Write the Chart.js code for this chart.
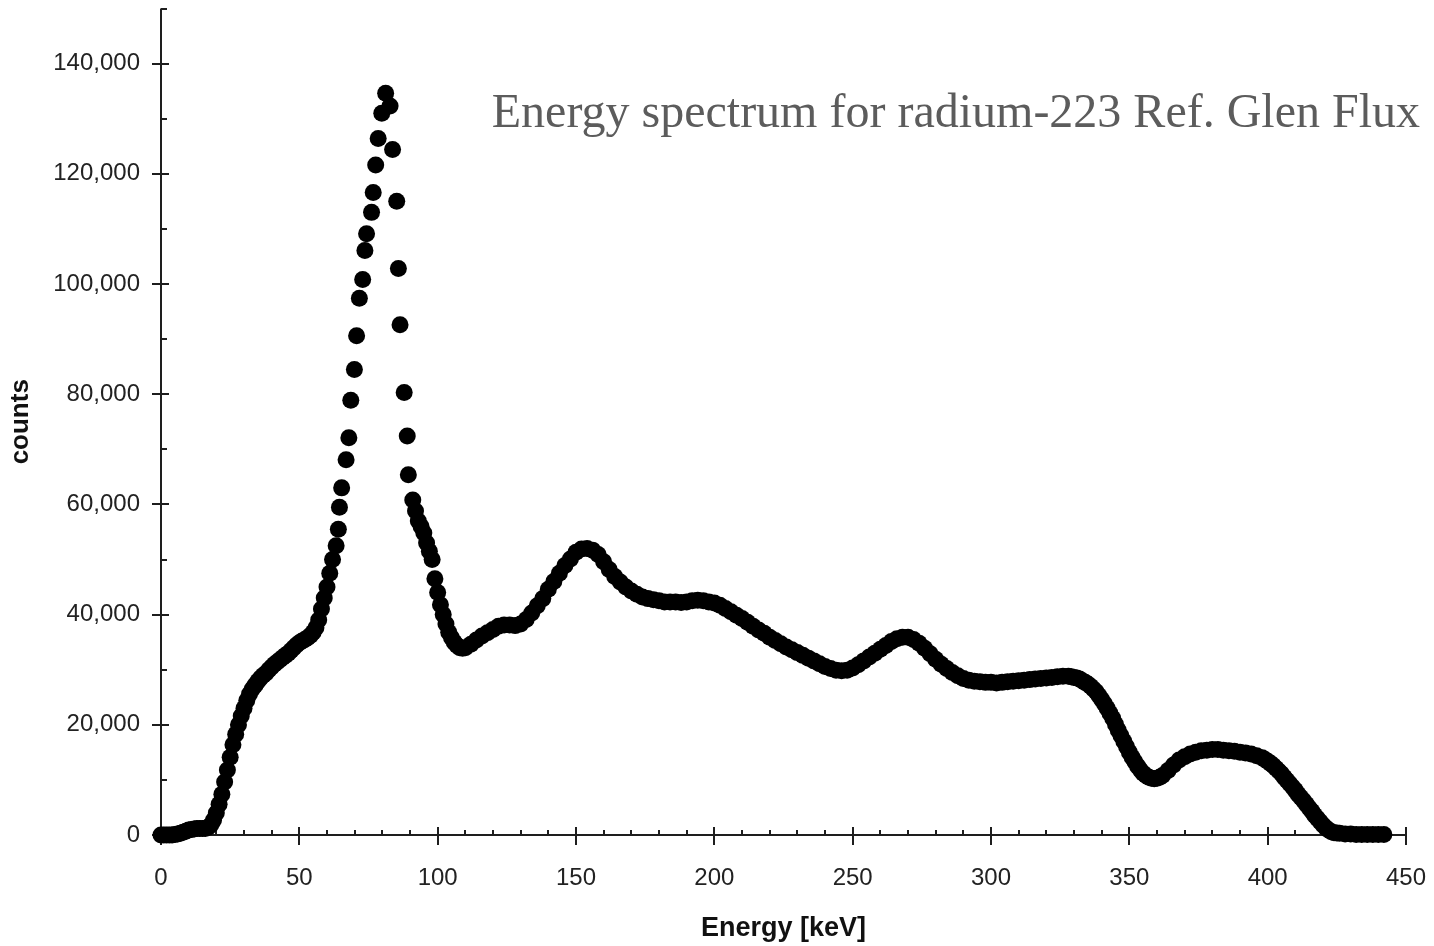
<!DOCTYPE html>
<html>
<head>
<meta charset="utf-8">
<script src="https://cdn.jsdelivr.net/npm/chart.js@4.4.0/dist/chart.umd.min.js"></script>
<style>
  html, body { margin: 0; padding: 0; background: #fff; }
  #wrap { width: 1434px; height: 946px; }
</style>
</head>
<body>
<div id="wrap"><canvas id="spectrum" width="1434" height="946"></canvas></div>
<script>
// Ra-223 gamma spectrum (energy in keV, counts)
const onsetKeV = [
  0, 1, 2, 3, 4, 5, 6, 7, 8, 9, 10, 11, 12, 13, 14, 15, 16, 17, 18, 19, 20,
  21, 22, 23, 24, 25, 26, 27, 28, 29, 30, 31, 32, 33, 34, 35, 36, 37, 38, 39, 40,
  41, 42, 43, 44, 45, 46, 47, 48, 49, 50, 51, 52, 53, 54, 55, 56, 57, 58, 59, 60,
  61, 62];
const onsetCounts = [
  0, 0, 0, 0, 0, 100, 200, 300, 500, 700, 900, 1000, 1100, 1200, 1200, 1200, 1200, 1400, 1800, 2700, 4000,
  5600, 7400, 9600, 11800, 14100, 16400, 18300, 20000, 21600, 23000, 24400, 25600, 26500, 27200, 27900, 28500, 29000, 29400, 30000, 30500,
  31000, 31400, 31800, 32200, 32600, 33000, 33500, 34000, 34500, 34900, 35200, 35500, 35800, 36200, 36800, 37600, 39000, 41000, 43000, 45000,
  47500, 50000];

const peakKeV = [63.3, 64.1, 64.5, 65.3, 66.9, 67.9, 68.6, 69.9, 70.7, 71.7, 72.9, 73.7, 74.3, 76.1,
  76.7, 77.6, 78.5, 79.8, 81.2, 82.8, 83.7, 85.2, 85.8, 86.4, 87.9, 89.0, 89.4, 91.0];
const peakCounts = [52500, 55500, 59500, 63000, 68100, 72100, 78900, 84500, 90600, 97400, 100800, 106100, 109100, 113000,
  116600, 121600, 126400, 131000, 134600, 132300, 124400, 115000, 102800, 92600, 80300, 72400, 65400, 60800];

const fallKeV = [92, 93, 94, 95, 96, 97, 98, 99, 100, 101, 102, 103, 104, 105, 106, 107, 108, 109, 110];
const fallCounts = [58800, 57000, 56000, 54800, 53000, 51500, 50000, 46500, 44000, 41800, 40000, 38300, 36800,
  35800, 35000, 34400, 34000, 33900, 34000];

const continuumKeV = [
  112, 114, 116, 118, 120, 122, 124, 126, 128, 130,
  132, 134, 136, 138, 140, 142, 144, 146, 148, 150,
  152, 154, 156, 158, 160, 162, 164, 166, 168, 170,
  172, 174, 176, 178, 180, 182, 184, 186, 188, 190,
  192, 194, 196, 198, 200, 202, 204, 206, 208, 210,
  212, 214, 216, 218, 220, 222, 224, 226, 228, 230,
  232, 234, 236, 238, 240, 242, 244, 246, 248, 250,
  252, 254, 256, 258, 260, 262, 264, 266, 268, 270,
  272, 274, 276, 278, 280, 282, 284, 286, 288, 290,
  292, 294, 296, 298, 300, 302, 304, 306, 308, 310,
  312, 314, 316, 318, 320, 322, 324, 326, 328];
const continuumCounts = [
  34600, 35400, 36100, 36700, 37300, 37900, 38100, 38100, 38000, 38300,
  39100, 40300, 41600, 42900, 44600, 46000, 47500, 48900, 50100, 51300,
  51900, 52000, 51700, 50900, 49600, 48200, 46900, 45900, 45000, 44300,
  43700, 43200, 42900, 42700, 42500, 42300, 42300, 42300, 42200, 42300,
  42500, 42600, 42500, 42300, 42100, 41700, 41100, 40500, 39900, 39300,
  38600, 37900, 37200, 36600, 35900, 35300, 34700, 34100, 33600, 33100,
  32600, 32100, 31600, 31100, 30600, 30200, 29900, 29800, 29900, 30300,
  30900, 31600, 32300, 33000, 33700, 34400, 35100, 35600, 35900, 35900,
  35500, 34800, 33900, 32900, 31900, 31000, 30200, 29500, 28900, 28400,
  28100, 27900, 27800, 27700, 27700, 27600, 27700, 27800, 27900, 28000,
  28100, 28200, 28300, 28400, 28500, 28600, 28700, 28800, 28800];

const dropKeV = [
  329, 330, 331, 332, 333, 334, 335, 336, 337, 338, 339, 340, 341, 342, 343, 344, 345,
  346, 347, 348, 349, 350, 351, 352, 353, 354, 355, 356, 357, 358, 359, 360, 361, 362];
const dropCounts = [
  28700, 28600, 28500, 28300, 28000, 27700, 27400, 27000, 26500, 26000, 25300, 24600, 23800, 23000, 22100, 21200, 20100,
  19000, 18000, 17000, 16000, 15000, 14100, 13300, 12500, 11800, 11200, 10800, 10500, 10300, 10200, 10300, 10500, 10800];

const shoulderKeV = [364, 366, 368, 370, 372, 374, 376, 378, 380, 382, 384, 386, 388, 390, 392, 394, 396];
const shoulderCounts = [11700, 12700, 13600, 14200, 14700, 15000, 15300, 15400, 15500, 15500, 15400, 15300, 15200,
  15000, 14900, 14700, 14400];

const edgeKeV = [
  398, 399, 400, 401, 402, 403, 404, 405, 406, 407, 408, 409, 410, 411, 412, 413, 414,
  415, 416, 417, 418, 419, 420, 421, 422, 423, 424, 425, 426, 428, 430, 432, 434, 436,
  438, 440, 442];
const edgeCounts = [
  14000, 13700, 13400, 13000, 12600, 12100, 11600, 11100, 10500, 9900, 9300, 8700, 8100, 7400, 6800, 6200, 5600,
  4900, 4300, 3600, 3000, 2400, 1800, 1300, 900, 600, 400, 350, 300, 200, 200, 100, 100, 100,
  100, 100, 100];

const xTicks = [0, 50, 100, 150, 200, 250, 300, 350, 400, 450];
const yTicks = [0, 20000, 40000, 60000, 80000, 100000, 120000, 140000];
const xMinorStep = 10;
const yMinorStep = 10000;
const chartTitle = 'Energy spectrum for radium-223 Ref. Glen Flux';

const energy = onsetKeV.concat(peakKeV, fallKeV, continuumKeV, dropKeV, shoulderKeV, edgeKeV);
const countValues = onsetCounts.concat(peakCounts, fallCounts, continuumCounts, dropCounts, shoulderCounts, edgeCounts);
const points = energy.map((e, i) => ({ x: e, y: countValues[i] }));

const sans = '"Liberation Sans", Arial, sans-serif';

// hand drawn axis lines + crossing major ticks and small minor ticks, plus the grey caption
const frame = {
  id: 'frame',
  beforeDatasetsDraw(chart) {
    const { ctx, chartArea: a, scales: { x, y } } = chart;
    ctx.save();
    ctx.strokeStyle = '#1e1e1e';
    ctx.lineWidth = 2;
    ctx.beginPath();
    ctx.moveTo(a.left, a.top);
    ctx.lineTo(a.left, a.bottom);
    ctx.lineTo(a.right, a.bottom);
    for (let v = x.min; v <= x.max; v += xMinorStep) {
      const px = Math.round(x.getPixelForValue(v));
      if (xTicks.includes(v)) {
        ctx.moveTo(px, a.bottom - 8);
        ctx.lineTo(px, a.bottom + 10);
      } else {
        ctx.moveTo(px, a.bottom - 5);
        ctx.lineTo(px, a.bottom);
      }
    }
    for (let v = y.min; v <= y.max; v += yMinorStep) {
      const py = Math.round(y.getPixelForValue(v));
      if (yTicks.includes(v)) {
        ctx.moveTo(a.left - 9, py);
        ctx.lineTo(a.left + 8, py);
      } else {
        ctx.moveTo(a.left, py);
        ctx.lineTo(a.left + 6, py);
      }
    }
    ctx.stroke();
    ctx.restore();
  },
  afterDraw(chart) {
    const ctx = chart.ctx;
    ctx.save();
    ctx.font = '48px "Liberation Serif", "Times New Roman", serif';
    ctx.fillStyle = '#5c5c5c';
    ctx.textAlign = 'right';
    ctx.textBaseline = 'alphabetic';
    ctx.fillText(chartTitle, 1420, 127);
    ctx.restore();
  }
};

new Chart(document.getElementById('spectrum'), {
  type: 'scatter',
  data: {
    datasets: [{
      data: points,
      backgroundColor: '#000',
      borderWidth: 0,
      pointRadius: 8.5,
      pointHoverRadius: 8.5,
      clip: false
    }]
  },
  options: {
    responsive: false,
    devicePixelRatio: 1,
    animation: false,
    layout: { padding: { top: 8, right: 28, left: 0, bottom: 0 } },
    plugins: { legend: { display: false }, tooltip: { enabled: false } },
    scales: {
      x: {
        type: 'linear',
        min: 0,
        max: 450,
        afterBuildTicks: s => { s.ticks = xTicks.map(v => ({ value: v })); },
        afterFit: s => { s.height = 111; s.paddingLeft = 0; s.paddingRight = 0; },
        grid: { display: false, drawTicks: false },
        border: { display: false },
        ticks: {
          padding: 29,
          color: '#222',
          maxRotation: 0,
          font: { family: sans, size: 24 }
        },
        title: {
          display: true,
          text: 'Energy [keV]',
          color: '#111',
          padding: { top: 0, bottom: 1 },
          font: { family: sans, size: 27, weight: 'bold' }
        }
      },
      y: {
        type: 'linear',
        min: 0,
        max: 150000,
        afterBuildTicks: s => { s.ticks = yTicks.map(v => ({ value: v })); },
        afterFit: s => { s.width = 161; s.paddingTop = 0; s.paddingBottom = 0; },
        grid: { display: false, drawTicks: false },
        border: { display: false },
        ticks: {
          padding: 21,
          color: '#222',
          font: { family: sans, size: 24 },
          callback: v => v.toLocaleString('en-US')
        },
        title: {
          display: true,
          text: 'counts',
          color: '#111',
          padding: { top: 5, bottom: 0 },
          font: { family: sans, size: 26, weight: 'bold' }
        }
      }
    }
  },
  plugins: [frame]
});
</script>
</body>
</html>
